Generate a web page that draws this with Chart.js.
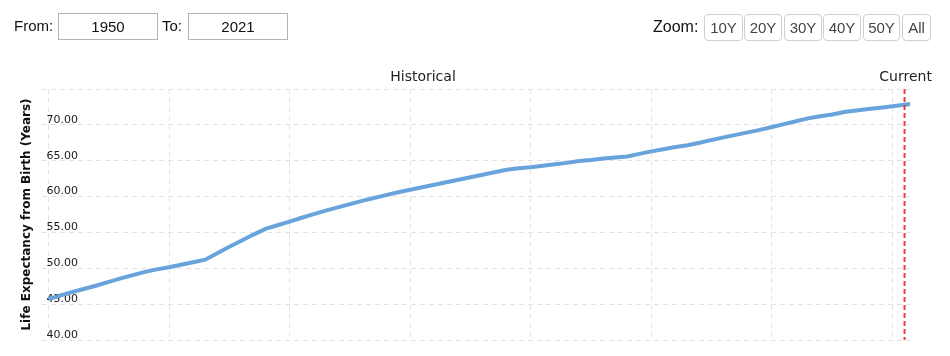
<!DOCTYPE html>
<html>
<head>
<meta charset="utf-8">
<title>Life Expectancy</title>
<script src="https://cdn.jsdelivr.net/npm/chart.js@4.4.1/dist/chart.umd.min.js"></script>
<style>
body{margin:0;background:#fff;font-family:"Liberation Sans",Arial,sans-serif;}
#wrap{position:relative;width:950px;height:356px;overflow:hidden;}
#grafico{position:absolute;left:0;top:0;}
.lbl{position:absolute;font-size:15px;color:#111;line-height:18px;}
.caixa{position:absolute;top:13px;box-sizing:border-box;width:100px;height:27px;border:1px solid #b4b4b4;font-size:15px;line-height:25px;text-align:center;color:#111;background:#fff;}
.bt{position:absolute;top:14px;box-sizing:border-box;height:27px;border:1px solid #d0d0d0;border-radius:4px;font-size:15px;line-height:25px;text-align:center;color:#444;background:#fff;}
</style>
</head>
<body>
<div id="wrap">
<canvas id="grafico" width="950" height="356"></canvas>
<div class="lbl" style="left:14px;top:17px">From:</div>
<div class="caixa" style="left:58px">1950</div>
<div class="lbl" style="left:162px;top:17px">To:</div>
<div class="caixa" style="left:188px">2021</div>
<div class="lbl" style="left:653px;top:18px;font-size:16px">Zoom:</div>
<div class="bt" style="left:704px;width:39px">10Y</div>
<div class="bt" style="left:744px;width:38px">20Y</div>
<div class="bt" style="left:784px;width:38px">30Y</div>
<div class="bt" style="left:823px;width:38px">40Y</div>
<div class="bt" style="left:863px;width:37px">50Y</div>
<div class="bt" style="left:902px;width:29px">All</div>
</div>
<script>
// anos e valores
var anos = [1950,1951,1952,1953,1954,1955,1956,1957,1958,1959,
            1960,1961,1962,1963,1964,1965,1966,1967,1968,1969,
            1970,1971,1972,1973,1974,1975,1976,1977,1978,1979,
            1980,1981,1982,1983,1984,1985,1986,1987,1988,1989,
            1990,1991,1992,1993,1994,1995,1996,1997,1998,1999,
            2000,2001,2002,2003,2004,2005,2006,2007,2008,2009,
            2010,2011,2012,2013,2014,2015,2016,2017,2018,2019,
            2020,2021,2022];
var expectativa = [45.70,46.20,46.70,47.15,47.60,48.10,48.60,49.05,49.50,49.85,
                   50.15,50.50,50.85,51.20,52.10,53.00,53.85,54.70,55.50,56.00,
                   56.50,57.05,57.55,58.05,58.50,58.95,59.40,59.80,60.20,60.60,
                   60.95,61.30,61.65,62.00,62.35,62.70,63.05,63.40,63.75,63.95,
                   64.10,64.30,64.50,64.70,64.95,65.10,65.30,65.45,65.60,65.95,
                   66.30,66.60,66.90,67.15,67.50,67.90,68.25,68.60,68.95,69.30,
                   69.70,70.10,70.50,70.90,71.20,71.45,71.80,72.00,72.20,72.40,
                   72.60,72.80,73.00];
var ticksX = [1950,1960,1970,1980,1990,2000,2010,2020];
var ticksY = [40,45,50,55,60,65,70,75];
var anoAtual = 2021;

Chart.defaults.font.family = "'DejaVu Sans', Verdana, sans-serif";

var marcas = {
  id: 'marcas',
  afterDatasetsDraw: function(chart) {
    var ctx = chart.ctx, a = chart.chartArea, x = chart.scales.x;
    var px = x.getPixelForValue(anoAtual);
    ctx.save();
    ctx.strokeStyle = 'rgba(232,50,50,0.95)';
    ctx.lineWidth = 2;
    ctx.setLineDash([5, 3]);
    ctx.beginPath();
    ctx.moveTo(px, a.top);
    ctx.lineTo(px, a.bottom);
    ctx.stroke();
    ctx.setLineDash([]);
    ctx.fillStyle = '#222';
    ctx.font = "14px 'DejaVu Sans'";
    ctx.textAlign = 'center';
    ctx.textBaseline = 'middle';
    ctx.fillText('Historical', 423, 77);
    ctx.fillText('Current', px + 1, 77);
    ctx.restore();
  }
};

new Chart(document.getElementById('grafico'), {
  type: 'line',
  data: {
    datasets: [{
      data: anos.map(function(a, i) { return {x: a, y: expectativa[i]}; }),
      borderColor: '#68a4db',
      borderWidth: 4,
      pointRadius: 0,
      tension: 0,
      fill: false,
      clip: 0
    }]
  },
  options: {
    responsive: false,
    animation: false,
    layout: {padding: {left: 16, right: 40, top: 89, bottom: 16}},
    plugins: {legend: {display: false}, tooltip: {enabled: false}},
    scales: {
      x: {
        type: 'linear', min: 1949.5, max: 2021.45,
        afterBuildTicks: function(s) { s.ticks = ticksX.map(function(v) { return {value: v}; }); },
        ticks: {display: false},
        grid: {color: '#e2e2e2', drawTicks: false},
        border: {display: false, dash: [5, 4]}
      },
      y: {
        min: 40, max: 75,
        afterBuildTicks: function(s) { s.ticks = ticksY.map(function(v) { return {value: v}; }); },
        ticks: {
          mirror: true, padding: 4, labelOffset: -5, autoSkip: false,
          color: '#1a1a1a', font: {size: 11},
          callback: function(v) { return v === 75 ? '' : v.toFixed(2); }
        },
        grid: {color: '#e2e2e2', drawTicks: false},
        border: {display: false, dash: [5, 4]},
        title: {
          display: true, text: 'Life Expectancy from Birth (Years)',
          color: '#111', font: {size: 12, weight: 'bold'},
          padding: {top: 4, bottom: 0}
        }
      }
    }
  },
  plugins: [marcas]
});
</script>
</body>
</html>
